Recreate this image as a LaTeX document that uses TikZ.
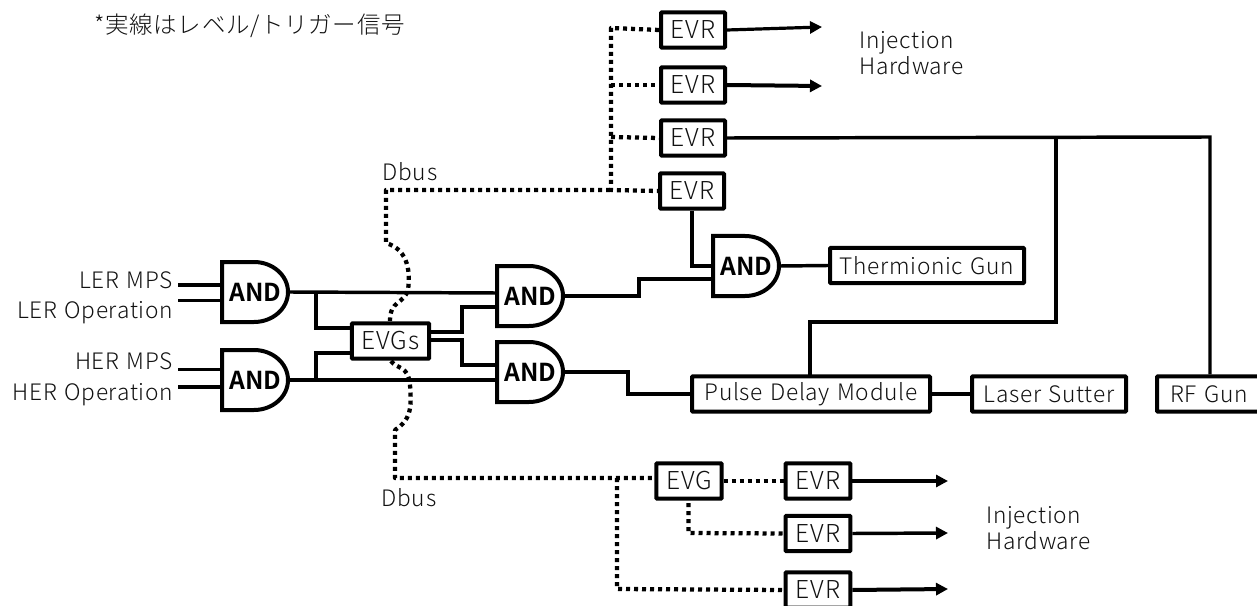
\documentclass[tikz,border=0pt]{standalone}
\usepackage{fontspec}
\setmainfont{Noto Sans CJK JP Light}[LetterSpace=3,WordSpace=1.3,BoldFont={Noto Sans CJK JP Bold}]
\usetikzlibrary{arrows.meta,calc}
\definecolor{txt}{HTML}{111111}
\tikzset{
  sig/.style={line width=2.6pt,line join=miter},
  dbus/.style={line width=3.2pt,dash pattern=on 3pt off 3pt,line join=round},
  arr/.style={sig,-{Triangle[length=9pt,width=9pt]}},
  box/.style={draw,line width=3pt,rounded corners=0.6pt,minimum height=26.5pt,inner sep=0pt,font=\fontsize{17pt}{18pt}\selectfont,text=txt,fill=white},
  shortbox/.style={box,font=\fontsize{18.5pt}{18pt}\selectfont},
  lab/.style={inner sep=0pt,font=\fontsize{17pt}{20pt}\selectfont,text=txt,align=left},
  gate/.style={inner sep=0pt,minimum width=50pt,minimum height=45pt,font=\addfontfeature{LetterSpace=0}\bfseries\fontsize{18.5pt}{18pt}\selectfont},
  pics/andgate/.style={code={
    \draw[line width=3pt,line join=miter] (-34,-30) -- (-2,-30) arc[start angle=90,end angle=-90,x radius=34,y radius=-30] -- (-34,30) -- cycle;
  }}
}
\newcommand{\gatenode}[3]{%
  \pic at (#2,#3) {andgate};
  \node[gate] (#1) at (#2,#3) {\kern-1pt AND};
}
\begin{document}
\begin{tikzpicture}[x=0.75pt,y=-0.75pt]
\useasboundingbox (0,0) rectangle (1257,606);
% dotted Dbus
\coordinate (dbusTop) at (386,190);
\coordinate (dbusBot) at (395,478);
\draw[dbus] (610,190) -- (dbusTop) -- (386,243)
  .. controls (410,250) and (410,275) .. (408,290)
  .. controls (403,305) and (390,300) .. (390,321);
\draw[dbus] (391,361) .. controls (398,370) and (408,365) .. (410,385)
  .. controls (412,410) and (410,420) .. (395,430) -- (dbusBot) -- (654,478);
% top EVR
\node[shortbox,minimum width=48pt] (evrA) at (693,30) {EVR};
\node[shortbox,minimum width=48pt] (evrB) at (693,85) {EVR};
\node[shortbox,minimum width=48pt] (evrC) at (693,138) {EVR};
\node[shortbox,minimum width=48pt] (evrD) at (692,191) {EVR};
\draw[dbus] (evrA.west) -- (611,28) -- (611,190) -- (evrD.west);
\draw[dbus] (611,85) -- (evrB.west);
\draw[dbus] (611,137) -- (evrC.west);
\draw[arr,line width=2.4pt] (evrA.east) -- (822,27);
\draw[arr,line width=3pt] (evrB.east) -- (822,86);
\coordinate (jTop) at (1056,137);
\coordinate (rfTop) at (1210,137);
% gates
\gatenode{andA}{256}{292}
\gatenode{andB}{256}{380}
\gatenode{andC}{531}{296}
\gatenode{andD}{531}{372}
\gatenode{andE}{747}{266}
% boxes
\node[shortbox,minimum width=58pt] (evgs) at (390.5,341) {EVGs};
\node[box,minimum width=145.5pt] (therm) at (927,265.5) {Thermionic Gun};
\node[box,minimum width=178.5pt] (pdm) at (811,394) {Pulse Delay Module};
\node[box,minimum width=115.5pt] (laser) at (1049,394) {Laser Sutter};
\node[box,minimum width=78pt] (rf) at (1209,394) {RF Gun};
% labels
\node[lab,anchor=west,font=\fontsize{17.6pt}{20pt}\selectfont] at (94,26) {*実線はレベル/トリガー信号};
\node[lab,anchor=west] (inj1) at (859,53) {Injection\\Hardware};
\node[lab,anchor=west] (inj2) at (986,528) {Injection\\Hardware};
\node[lab] at (410,172) {Dbus};
\node[lab] at (409,498) {Dbus};
\node[lab,anchor=east] (lerM) at (173,280) {LER MPS};
\node[lab,anchor=east] (lerO) at (173,313) {LER Operation};
\node[lab,anchor=east] (herM) at (173,361) {HER MPS};
\node[lab,anchor=east] (herO) at (173,395) {HER Operation};
% inputs
\draw[sig] (178,285) -- (222,285);
\draw[sig] (178,300.5) -- (222,300.5);
\draw[sig] (178,369.5) -- (222,369.5);
\draw[sig] (178,387) -- (222,387);
% middle wiring
\draw[sig] (290,292) -- (497,293);
\draw[sig] (290,380) -- (497,380);
\draw[sig] (316,292) -- (316,328) -- (350,328);
\draw[sig] (316,380) -- (316,353) -- (350,353);
\draw[sig] (431,332) -- (462,332) -- (462,307) -- (497,307);
\draw[sig] (431,340) -- (462,340) -- (462,365) -- (497,365);
% outputs
\draw[sig] (565,296) -- (639,296) -- (639,279) -- (713,279);
\draw[sig] (evrD.south) -- (692,266) -- (713,266);
\draw[sig] (780,266) -- (therm.west);
\draw[sig] (565,372) -- (628,372) -- (628,394) -- (pdm.west);
\draw[sig] (pdm.east) -- (laser.west);
\draw[sig] (evrC.east) -- (rfTop) -- (rf.north -| rfTop);
\draw[sig] (jTop) -- (1056,322) -- (810,322) -- (810,375);
% bottom
\node[shortbox,minimum width=49pt] (evg) at (689,481) {EVG};
\node[shortbox,minimum width=48.5pt] (evrE) at (818,481) {EVR};
\node[shortbox,minimum width=48.5pt] (evrF) at (818,533.5) {EVR};
\node[shortbox,minimum width=48.5pt] (evrG) at (818,590) {EVR};
\draw[dbus] (evg.east) -- (evrE.west);
\draw[dbus] (688.5,503) -- (688.5,533) -- (evrF.west);
\draw[dbus] (617,478) -- (617,589) -- (evrG.west);
\draw[arr] (evrE.east) -- (948,481);
\draw[arr] (evrF.east) -- (948,533);
\draw[arr,line width=3pt] (evrG.east) -- (948,589);
\end{tikzpicture}
\end{document}
